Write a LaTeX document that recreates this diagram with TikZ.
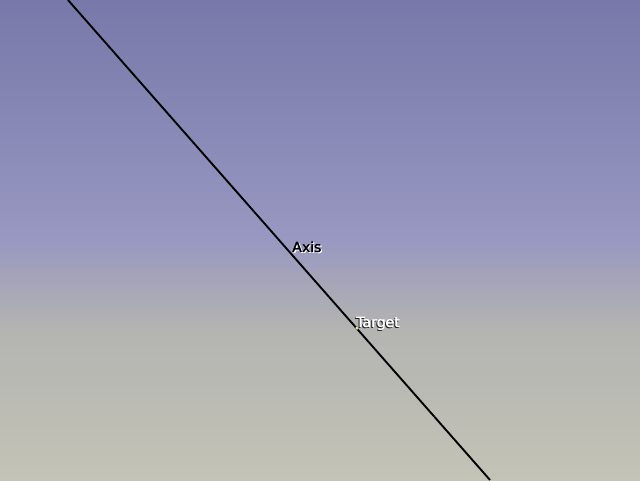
\documentclass[tikz,border=0pt]{standalone}
\usepackage{fontspec}
\setmainfont{DejaVu Sans}
\definecolor{bgtop}{RGB}{120,120,170}
\definecolor{bgmid}{RGB}{152,152,194}
\definecolor{bgmidb}{RGB}{166,166,184}
\definecolor{bgmidc}{RGB}{180,180,178}
\definecolor{bgbot}{RGB}{195,195,182}
\definecolor{markfill}{RGB}{235,235,150}
\pgfdeclareverticalshading{bgshade}{100bp}{color(0bp)=(bgbot); color(25bp)=(bgbot); color(40.6bp)=(bgmidc); color(45.3bp)=(bgmidb); color(50bp)=(bgmid); color(75bp)=(bgtop); color(100bp)=(bgtop)}
\tikzset{
  axisline/.style={line width=1.9pt, black},
  lbl/.style={inner sep=0pt, font=\fontsize{14}{16}\selectfont, anchor=base west},
  marker/.style={circle, fill=markfill, draw=black!60, line width=0.3pt, inner sep=0pt, minimum size=3.5pt}
}
\newcommand{\heavy}[1]{\makebox[0pt][l]{\hspace{0.5pt}#1}#1}
\newcommand{\shadowdark}[1]{\makebox[0pt][l]{\hspace{1.2pt}\raisebox{-1pt}{\color{white}\heavy{#1}}}\color{black}\heavy{#1}}
\newcommand{\shadowlight}[1]{\makebox[0pt][l]{\hspace{-1pt}\raisebox{-1.2pt}{\color{black!85}\heavy{#1}}}\color{white}\heavy{#1}}
\begin{document}
\begin{tikzpicture}[x=1pt,y=-1pt]
  \useasboundingbox (0,0) rectangle (640,480);
  \shade[shading=bgshade] (0,0) rectangle (640,480);
  \coordinate (top) at (68,0);
  \coordinate (bot) at (490,480);
  \draw[axisline] (top) -- (bot);
  \node[lbl] (axislbl) at (292,252) {\shadowdark{Axis}};
  \node[marker] (target) at (357,328) {};
  \node[lbl] (targetlbl) at (356,327) {\shadowlight{Target}};
\end{tikzpicture}
\end{document}
